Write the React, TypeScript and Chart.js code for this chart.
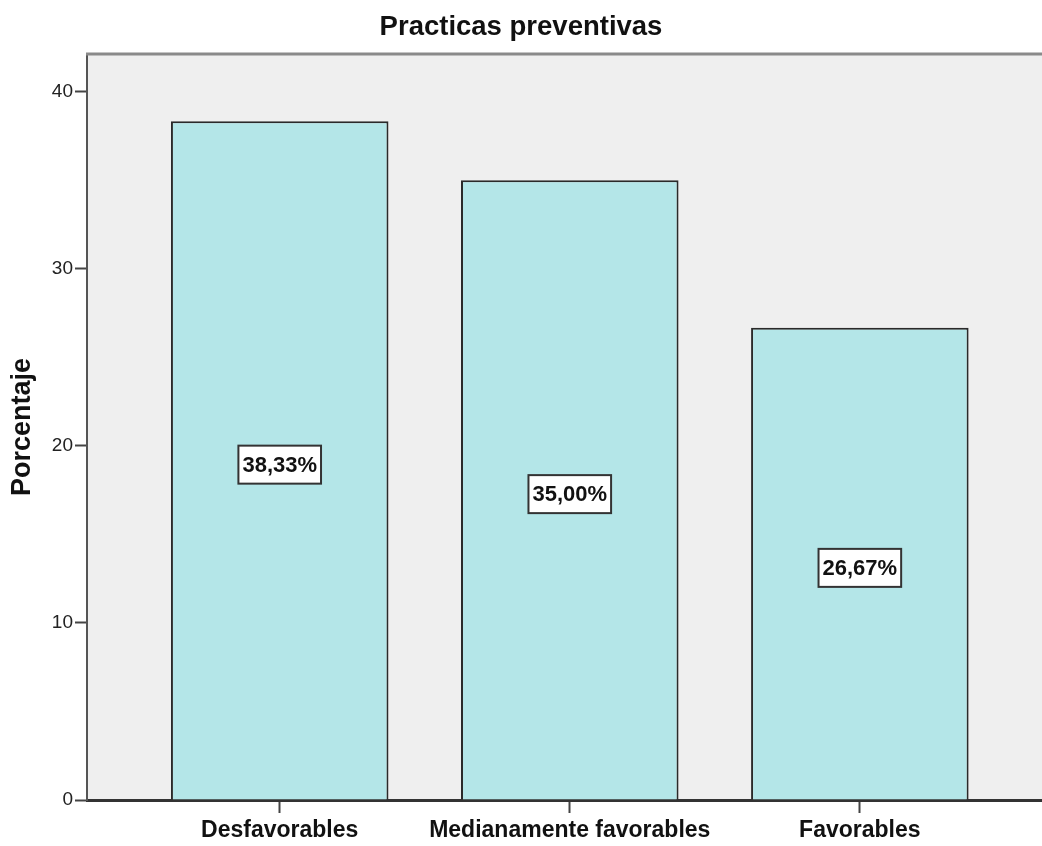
import React, { useEffect, useRef } from "react";
import { Chart, registerables } from "chart.js";

Chart.register(...registerables);

// Chart content
const chartTitle = "Practicas preventivas";
const yAxisTitle = "Porcentaje";
const categories = ["Desfavorables", "Medianamente favorables", "Favorables"];
const percentages = [38.33, 35.0, 26.67];
const yTickValues = [0, 10, 20, 30, 40];

const SANS = "'Liberation Sans', Arial, sans-serif";

const formatPct = (v: number) => v.toFixed(2).replace(".", ",") + "%";

// Grey plot panel with a thin frame line along its top edge
const panelPlugin = {
  id: "panel",
  beforeDraw(chart: any) {
    const { ctx, chartArea } = chart;
    ctx.save();
    ctx.fillStyle = "#efefef";
    ctx.fillRect(chartArea.left, chartArea.top, chartArea.right - chartArea.left, chartArea.bottom - chartArea.top);
    ctx.restore();
  },
  afterDraw(chart: any) {
    const { ctx, chartArea } = chart;
    ctx.save();
    ctx.strokeStyle = "#8a8a8a";
    ctx.lineWidth = 3;
    ctx.beginPath();
    ctx.moveTo(chartArea.left - 1, chartArea.top);
    ctx.lineTo(chartArea.right, chartArea.top);
    ctx.stroke();
    ctx.restore();
  },
};

// Boxed percentage labels placed halfway up each bar
const valueBoxPlugin = {
  id: "valueBoxes",
  afterDatasetsDraw(chart: any) {
    const { ctx } = chart;
    const yScale = chart.scales.y;
    const meta = chart.getDatasetMeta(0);
    ctx.save();
    ctx.font = `bold 22px ${SANS}`;
    ctx.textAlign = "center";
    ctx.textBaseline = "middle";
    meta.data.forEach((bar: any, i: number) => {
      const v = percentages[i];
      const text = formatPct(v);
      const cx = bar.x;
      const cy = yScale.getPixelForValue(v / 2) + 4;
      const tw = ctx.measureText(text).width;
      const w = tw + 8;
      const h = 38;
      ctx.fillStyle = "#ffffff";
      ctx.fillRect(cx - w / 2, cy - h / 2, w, h);
      ctx.strokeStyle = "#333333";
      ctx.lineWidth = 2;
      ctx.strokeRect(cx - w / 2, cy - h / 2, w, h);
      ctx.fillStyle = "#111111";
      ctx.fillText(text, cx, cy + 1);
    });
    ctx.restore();
  },
};

export default function App() {
  const canvasRef = useRef<HTMLCanvasElement | null>(null);

  useEffect(() => {
    if (!canvasRef.current) return;
    const chart = new Chart(canvasRef.current, {
      type: "bar",
      data: {
        datasets: [
          {
            data: categories.map((_, i) => ({ x: i, y: percentages[i] })),
            backgroundColor: "#b4e6e8",
            borderColor: "#2a2a2a",
            borderWidth: 2,
            borderSkipped: "bottom",
            categoryPercentage: 1,
            barPercentage: 0.75,
          },
        ],
      },
      options: {
        responsive: false,
        animation: false,
        devicePixelRatio: 1,
        layout: { padding: { top: 0, right: 0, bottom: 0, left: 0 } },
        plugins: {
          legend: { display: false },
          tooltip: { enabled: false },
          title: {
            display: true,
            text: chartTitle,
            color: "#111111",
            font: { family: SANS, size: 27.5, weight: "bold" },
            padding: { top: 11, bottom: 10 },
          },
        },
        scales: {
          x: {
            type: "linear",
            offset: false,
            min: -0.6644,
            max: 2.628,
            z: 1,
            afterBuildTicks(scale: any) {
              scale.ticks = categories.map((_, i) => ({ value: i }));
            },
            afterFit(scale: any) {
              scale.height = 46;
            },
            ticks: {
              autoSkip: false,
              maxRotation: 0,
              padding: 4,
              color: "#111111",
              font: { family: SANS, size: 23, weight: "bold" },
              callback: (v: any) => categories[v as number] ?? "",
            },
            grid: {
              offset: false,
              drawOnChartArea: false,
              drawTicks: true,
              tickLength: 13,
              tickColor: "#444444",
              tickWidth: 2,
            },
            border: { display: true, color: "#333333", width: 3 },
          },
          y: {
            type: "linear",
            min: 0,
            max: 42.13,
            afterBuildTicks(scale: any) {
              scale.ticks = yTickValues.map((v) => ({ value: v }));
            },
            afterFit(scale: any) {
              scale.width = 87;
            },
            ticks: {
              padding: 2,
              color: "#222222",
              font: { family: SANS, size: 19 },
            },
            grid: {
              drawOnChartArea: false,
              drawTicks: true,
              tickLength: 12,
              tickColor: "#444444",
              tickWidth: 2,
            },
            border: { display: true, color: "#555555", width: 2 },
            title: {
              display: true,
              text: yAxisTitle,
              color: "#111111",
              font: { family: SANS, size: 27, weight: "bold" },
              padding: { top: 6, bottom: 0 },
            },
          },
        },
      },
      plugins: [panelPlugin, valueBoxPlugin],
    } as any);
    return () => chart.destroy();
  }, []);

  return (
    <div style={{ position: "fixed", left: 0, top: 0, width: 1042, height: 846, background: "#ffffff" }}>
      <canvas ref={canvasRef} width={1042} height={846} style={{ display: "block" }} />
    </div>
  );
}
